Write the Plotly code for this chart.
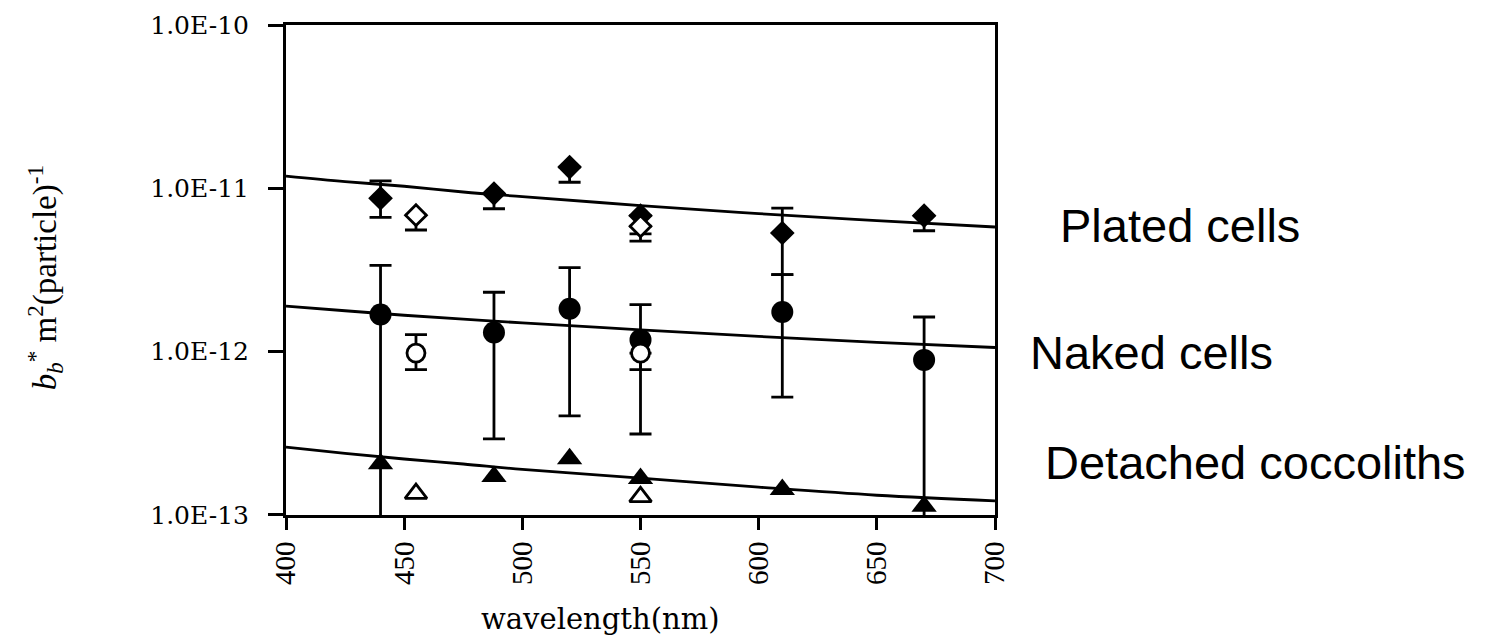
import plotly.graph_objects as go

# ---------------- data ----------------
wl_ticks = [400, 450, 500, 550, 600, 650, 700]
y_tick_vals = [1e-13, 1e-12, 1e-11, 1e-10]
y_tick_text = ["1.0E-13", "1.0E-12", "1.0E-11", "1.0E-10"]

# fitted curves
fit_wl = [400, 425, 450, 475, 500, 550, 600, 650, 700]
fit_plated = [1.19e-11, 1.10e-11, 1.03e-11, 9.5e-12, 8.9e-12, 7.85e-12, 7.0e-12, 6.35e-12, 5.8e-12]
fit_naked = [1.9e-12, 1.78e-12, 1.67e-12, 1.58e-12, 1.50e-12, 1.36e-12, 1.24e-12, 1.14e-12, 1.06e-12]
fit_cocco = [2.6e-13, 2.38e-13, 2.2e-13, 2.05e-13, 1.9e-13, 1.68e-13, 1.48e-13, 1.32e-13, 1.22e-13]

# filled symbols
wl_filled = [440, 488, 520, 550, 610, 670]
plated_val = [8.7e-12, 9.3e-12, 1.35e-11, 6.8e-12, 5.33e-12, 6.8e-12]
plated_hi = [1.11e-11, None, None, None, 7.57e-12, None]
plated_lo = [6.64e-12, 7.5e-12, 1.09e-11, 4.75e-12, 2.96e-12, 5.5e-12]

naked_val = [1.69e-12, 1.31e-12, 1.83e-12, 1.18e-12, 1.75e-12, 8.9e-13]
naked_hi = [3.38e-12, 2.31e-12, 3.27e-12, 1.94e-12, 2.96e-12, 1.63e-12]
naked_lo = [1e-14, 2.92e-13, 4.04e-13, 3.13e-13, 5.26e-13, 1e-14]

cocco_val = [2.06e-13, 1.72e-13, 2.21e-13, 1.67e-13, 1.43e-13, 1.13e-13]

# open symbols
wl_open = [455, 550]
plated_open_val = [6.85e-12, 5.86e-12]
plated_open_lo = [5.56e-12, 5.26e-12]
naked_open_val = [9.8e-13, 9.8e-13]
naked_open_hi = [1.27e-12, None]
naked_open_lo = [7.75e-13, 7.75e-13]
cocco_open_val = [1.35e-13, 1.29e-13]

labels = ["Plated cells", "Naked cells", "Detached coccoliths"]

# ---------------- figure ----------------
SERIF = "Liberation Serif, Times New Roman, serif"
WIDE_SERIF = "DejaVu Serif, serif"
SANS = "Liberation Sans, Arial, sans-serif"


def err(vals, hi, lo):
    up = [0 if h is None else h - v for v, h in zip(vals, hi)]
    dn = [0 if l is None else v - l for v, l in zip(vals, lo)]
    return dict(type="data", symmetric=False, array=up, arrayminus=dn,
                color="black", thickness=2.8, width=11)


fig = go.Figure()

for f in (fit_plated, fit_naked, fit_cocco):
    fig.add_trace(go.Scatter(x=fit_wl, y=f, mode="lines",
                             line=dict(color="black", width=2.8, shape="spline"),
                             showlegend=False, hoverinfo="skip"))

# filled markers
fig.add_trace(go.Scatter(x=wl_filled, y=plated_val, mode="markers",
                         marker=dict(symbol="diamond", size=19, color="black"),
                         error_y=err(plated_val, plated_hi, plated_lo),
                         name=labels[0], showlegend=False))
fig.add_trace(go.Scatter(x=wl_filled, y=naked_val, mode="markers",
                         marker=dict(symbol="circle", size=22, color="black"),
                         error_y=err(naked_val, naked_hi, naked_lo),
                         name=labels[1], showlegend=False))
fig.add_trace(go.Scatter(x=wl_filled, y=cocco_val, mode="markers",
                         marker=dict(symbol="triangle-up", size=22, color="black"),
                         name=labels[2], showlegend=False))

# open markers
fig.add_trace(go.Scatter(x=wl_open, y=plated_open_val, mode="markers",
                         marker=dict(symbol="diamond", size=16, color="white",
                                     line=dict(color="black", width=2.8)),
                         error_y=err(plated_open_val, [None, None], plated_open_lo),
                         showlegend=False))
fig.add_trace(go.Scatter(x=wl_open, y=naked_open_val, mode="markers",
                         marker=dict(symbol="circle", size=18, color="white",
                                     line=dict(color="black", width=2.8)),
                         error_y=err(naked_open_val, naked_open_hi, naked_open_lo),
                         showlegend=False))
fig.add_trace(go.Scatter(x=wl_open, y=cocco_open_val, mode="markers",
                         marker=dict(symbol="triangle-up", size=19, color="white",
                                     line=dict(color="black", width=2.8)),
                         showlegend=False))

axis_common = dict(showgrid=False, zeroline=False, showline=True, linecolor="black",
                   linewidth=3, mirror=True, ticks="outside", tickwidth=3,
                   tickcolor="black", ticklabeloverflow="allow", automargin=False)

fig.update_xaxes(range=[400, 700], tickvals=wl_ticks,
                 ticktext=[str(v) for v in wl_ticks], tickangle=-90, ticklen=12,
                 tickfont=dict(family=SERIF, size=29, color="black"), **axis_common)
fig.update_yaxes(type="log", range=[-13.0005, -9.9995], tickvals=y_tick_vals,
                 ticktext=y_tick_text, ticklen=15, ticklabelstandoff=14,
                 tickfont=dict(family=WIDE_SERIF, size=25, color="black"), **axis_common)

# axis titles and series labels
fig.add_annotation(text="wavelength(nm)", xref="paper", yref="paper",
                   x=0.443, y=-0.25, xanchor="center", yanchor="bottom",
                   showarrow=False, font=dict(family=WIDE_SERIF, size=29, color="black"))
fig.add_annotation(text="<i>b</i><sub><i>b</i></sub><sup>*</sup> m<sup>2</sup>(particle)<sup>-1</sup>",
                   xref="paper", yref="paper", x=-0.34, y=0.485, textangle=-90,
                   xanchor="center", yanchor="middle", showarrow=False,
                   font=dict(family=SERIF, size=33, color="black"))

label_pos = [(1.0888, 0.59), (1.0466, 0.332), (1.0678, 0.108)]
for lab, (lx, ly) in zip(labels, label_pos):
    fig.add_annotation(text=lab, xref="paper", yref="paper", x=lx, y=ly,
                       xanchor="left", yanchor="middle", showarrow=False,
                       font=dict(family=SANS, size=47, color="black"))

fig.update_layout(width=1491, height=639, autosize=False,
                  margin=dict(l=278, r=504, t=17, b=132),
                  plot_bgcolor="white", paper_bgcolor="white")

fig.write_html("out.html")
